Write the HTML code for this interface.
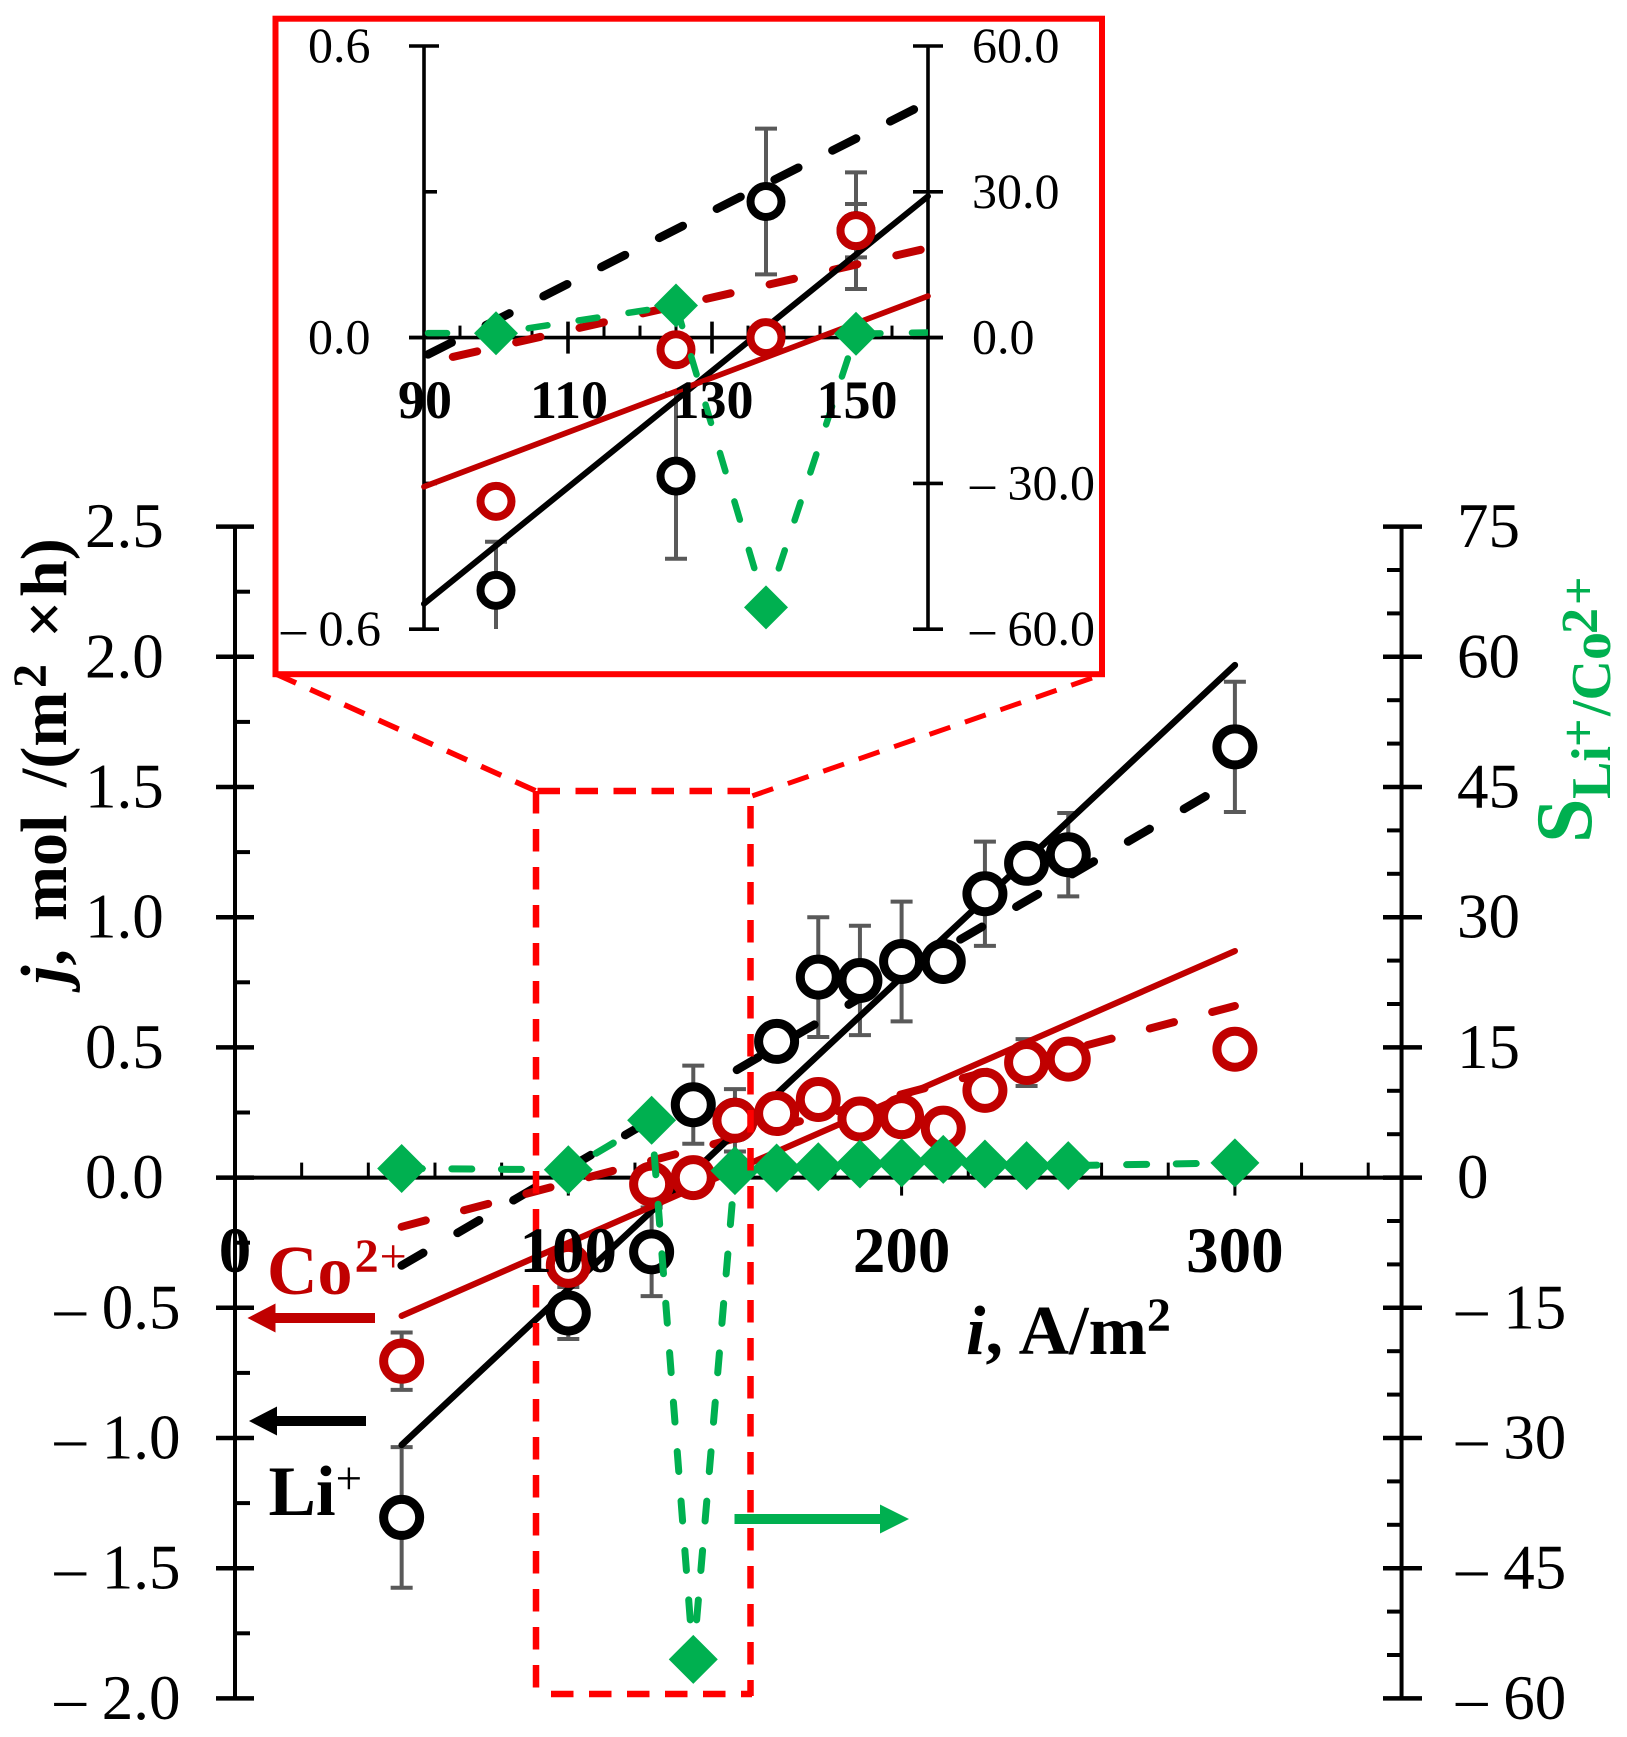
<!DOCTYPE html>
<html lang="en">
<head>
<meta charset="utf-8">
<title>Ion flux and selectivity vs current density</title>
<style>
html,body{margin:0;padding:0;background:#fff}
svg{display:block;font-family:"Liberation Serif",serif}
</style>
</head>
<body>
<svg id="chart" xmlns="http://www.w3.org/2000/svg" width="1627" height="1737" viewBox="0 0 1627 1737">
<rect width="1627" height="1737" fill="#fff"/>
<defs>
<clipPath id="inset-x-clip"><rect x="424" y="20" width="504" height="650"/></clipPath>
<clipPath id="inset-y-clip"><rect x="410" y="45.8" width="530" height="583.2"/></clipPath>
</defs>
<g id="main-layer"></g>
<g id="inset-layer"></g>

<g stroke="#f00" stroke-width="6.5" fill="none" stroke-dasharray="22.5 15.5">
<line x1="750" y1="791" x2="536" y2="791"/>
<line x1="536" y1="791" x2="536" y2="1694"/>
<line x1="551" y1="1694" x2="752" y2="1694"/>
<line x1="750.5" y1="806" x2="750.5" y2="1696"/>
</g>
<line x1="276" y1="674" x2="536" y2="791" stroke="#f00" stroke-width="5.5" stroke-dasharray="22 15.5"/>
<line x1="1092" y1="678" x2="752" y2="796" stroke="#f00" stroke-width="5" stroke-dasharray="22 15.5"/>
<rect x="275.5" y="18.7" width="826.5" height="655.5" fill="none" stroke="#f00" stroke-width="6"/>

<g id="label-layer"></g>

<text x="966" y="1354" font-size="70" font-weight="bold"><tspan font-style="italic">i</tspan>,<tspan dx="2"> A/m</tspan><tspan font-size="48" dy="-23">2</tspan></text>

<text transform="translate(66,990) rotate(-90)" font-size="66" font-weight="bold"><tspan font-style="italic" x="6" y="0">j</tspan><tspan>,</tspan><tspan x="69" y="0">mol</tspan><tspan x="203" y="0">/(m</tspan><tspan font-size="48" x="302" y="-20">2</tspan><tspan x="352" y="0">×</tspan><tspan x="393" y="0">h)</tspan></text>

<text transform="translate(1591,842) rotate(-90)" font-weight="bold" fill="#00B050"><tspan font-size="80" x="-1" y="0">S</tspan><tspan font-size="56" x="43" y="19">Li</tspan><tspan font-size="50" x="95" y="4">+</tspan><tspan font-size="56" x="126" y="19">/Co</tspan><tspan font-size="52" x="208" y="6">2</tspan><tspan font-size="50" x="237" y="4">+</tspan></text>

<text x="267" y="1294" font-size="70" font-weight="bold" fill="#C00000">Co<tspan font-size="48" dy="-22" dx="2">2</tspan><tspan font-size="48" font-weight="normal" dx="1">+</tspan></text>
<text x="268.5" y="1515" font-size="71" font-weight="bold" fill="#000">Li<tspan font-size="47" font-weight="normal" dy="-21">+</tspan></text>

<path fill="#C00000" d="M247.5 1318 L275.5 1303.5 V1313 H375 V1323 H275.5 V1332.5 Z"/>
<path fill="#000" d="M249 1421 L277 1406.5 V1416 H366 V1426 H277 V1435.5 Z"/>
<path fill="#00B050" d="M909 1519 L880 1504.5 V1514 H734.5 V1524 H880 V1533.5 Z"/>
</svg>
<script>
const currents = [50, 100, 125, 137.5, 150, 162.5, 175, 187.5, 200, 212.5, 225, 237.5, 250, 300];
const liFlux = [-1.305, -0.52, -0.285, 0.28, 0.22, 0.523, 0.77, 0.757, 0.83, 0.83, 1.09, 1.207, 1.24, 1.654];
const coFlux = [-0.705, -0.337, -0.025, 0, 0.22, 0.246, 0.30, 0.225, 0.234, 0.19, 0.335, 0.442, 0.455, 0.493];
const selectivity = [1.05, 0.9, 6.6, -55.5, 0.8, 1.1, 1.25, 1.56, 1.7, 2.1, 1.56, 1.38, 1.38, 1.7];
const liError = [0.27, 0.1, 0.17, 0.15, 0.12, 0, 0.23, 0.21, 0.23, 0, 0.2, 0, 0.16, 0.25];
const coError = [0.11, 0, 0, 0, 0.055, 0, 0, 0, 0, 0, 0, 0.09, 0, 0];

const liFitEnds = [-1.027, 1.968];
const coFitEnds = [-0.531, 0.87];
const liTrendEnds = [-0.3376, 1.53];
const coTrendEnds = [-0.189, 0.659];
const fitCurrents = [50, 300];

const mainXLabels = ["0", "100", "200", "300"];
const mainXLabelValues = [0, 100, 200, 300];
const mainLeftValues = [2.5, 2, 1.5, 1, 0.5, 0, -0.5, -1, -1.5, -2];
const mainLeftLabels = ["2.5", "2.0", "1.5", "1.0", "0.5", "0.0", "– 0.5", "– 1.0", "– 1.5", "– 2.0"];
const mainRightValues = [75, 60, 45, 30, 15, 0, -15, -30, -45, -60];
const mainRightLabels = ["75", "60", "45", "30", "15", "0", "– 15", "– 30", "– 45", "– 60"];

const insetXLabels = ["90", "110", "130", "150"];
const insetXLabelValues = [90, 110, 130, 150];
const insetLeftValues = [0.6, 0, -0.6];
const insetLeftLabels = ["0.6", "0.0", "– 0.6"];
const insetRightValues = [60, 30, 0, -30, -60];
const insetRightLabels = ["60.0", "30.0", "0.0", "– 30.0", "– 60.0"];

const SVGNS = 'http://www.w3.org/2000/svg';
function mk(tag, attrs, parent) {
  const el = document.createElementNS(SVGNS, tag);
  for (const k in attrs) el.setAttribute(k, attrs[k]);
  parent.appendChild(el);
  return el;
}
function interp(ends, i) {
  return ends[0] + (ends[1] - ends[0]) * (i - fitCurrents[0]) / (fitCurrents[1] - fitCurrents[0]);
}

const mainX = v => 235 + 3.333 * v;
const mainY = v => 1177.6 - 260.4 * v;
const mainYR = v => 1177.6 - 8.68 * v;
const insetX = v => 424 + 7.2 * (v - 90);
const insetY = v => 337.6 - 486 * v;
const insetYR = v => 337.6 - 4.86 * v;

function drawMarks(layer, o) {
  const gErr = mk('g', {}, layer);
  
  
  if (o.errClip) gErr.setAttribute('clip-path', o.errClip);
  function errBars(values, errors, name) {
    currents.forEach((c, k) => {
      if (!errors[k] || c < o.min || c > o.max) return;
      const x = o.x(c), hi = o.y(values[k] + errors[k]), lo = o.y(values[k] - errors[k]);
      const bar = mk('path', {d: 'M' + x + ' ' + hi + 'V' + lo + 'M' + (x - 11) + ' ' + hi + 'H' + (x + 11) + 'M' + (x - 11) + ' ' + lo + 'H' + (x + 11), stroke: '#595959', 'stroke-width': 4, fill: 'none'}, gErr);
      
      
    });
  }
  errBars(liFlux, liError, 'li-error-bar');
  errBars(coFlux, coError, 'co-error-bar');

  function fitLine(ends, a, b, color, width, dash, offset, name) {
    const line = mk('line', {x1: o.x(a), y1: o.y(interp(ends, a)), x2: o.x(b), y2: o.y(interp(ends, b)), stroke: color, 'stroke-width': width, 'stroke-linecap': 'round'}, layer);
    if (dash) {
      line.setAttribute('stroke-dasharray', dash);
      line.setAttribute('stroke-dashoffset', offset);
    }
    
    
  }
  fitLine(liTrendEnds, o.fitMin, o.fitMax, '#000', 8.5, o.liDash, o.liDashOffset, 'li-dashed-trend');
  fitLine(coTrendEnds, o.coDashMin, o.fitMax, '#C00000', 8, o.coDash, 0, 'co-dashed-trend');
  fitLine(liFitEnds, o.fitMin, o.fitMax, '#000', o.solidW, null, 0, 'li-solid-fit');
  fitLine(coFitEnds, o.fitMin, o.fitMax, '#C00000', o.solidW - 0.3, null, 0, 'co-solid-fit');

  function rings(values, color, name) {
    currents.forEach((c, k) => {
      if (c < o.min || c > o.max) return;
      const ring = mk('circle', {cx: o.x(c), cy: o.y(values[k]), r: o.r, fill: '#fff', stroke: color, 'stroke-width': o.rw}, layer);
      
      
    });
  }
  rings(liFlux, '#000', 'li-marker');
  rings(coFlux, '#C00000', 'co-marker');

  const pts = currents.map((c, k) => [o.x(c), o.yR(selectivity[k])]);
  const deepest = selectivity.indexOf(Math.min.apply(null, selectivity));
  let toDeepest = 0;
  for (let k = 0; k < deepest; k++) toDeepest += Math.hypot(pts[k + 1][0] - pts[k][0], pts[k + 1][1] - pts[k][1]);
  const curve = mk('polyline', {points: pts.map(p => p.join(',')).join(' '), fill: 'none', stroke: '#00B050', 'stroke-width': o.curveW, 'stroke-linecap': 'round', 'stroke-linejoin': 'round', 'stroke-dasharray': o.curveDash[0] + ' ' + o.curveDash[1], 'stroke-dashoffset': -(toDeepest - o.curveDash[0] / 2)}, layer);
  if (o.curveClip) curve.setAttribute('clip-path', o.curveClip);
  
  

  currents.forEach((c, k) => {
    if (c < o.min || c > o.max) return;
    const x = o.x(c), y = o.yR(selectivity[k]), h = o.d;
    const dia = mk('path', {d: 'M' + x + ' ' + (y - h) + 'L' + (x + h) + ' ' + y + 'L' + x + ' ' + (y + h) + 'L' + (x - h) + ' ' + y + 'Z', fill: '#00B050'}, layer);
    
    
  });
}

function tick(layer, d, w, name) {
  const t = mk('path', {d: d, stroke: '#000', 'stroke-width': w, fill: 'none'}, layer);
  
  
}

const mainLayer = document.getElementById('main-layer');
const insetLayer = document.getElementById('inset-layer');
const labelLayer = document.getElementById('label-layer');

tick(mainLayer, 'M235 ' + mainY(2.5) + 'V' + mainY(-2), 4, 'left-y-axis');
tick(mainLayer, 'M' + mainX(350) + ' ' + mainYR(75) + 'V' + mainYR(-60), 4, 'right-y-axis');
tick(mainLayer, 'M216 ' + mainY(0) + 'H1422', 4, 'x-axis');
for (let v = 20; v <= 340; v += 20) {
  if (v % 100 === 0) tick(mainLayer, 'M' + mainX(v) + ' ' + (mainY(0) - 18) + 'V' + (mainY(0) + 18), 3, 'x-major-tick');
  else tick(mainLayer, 'M' + mainX(v) + ' ' + (mainY(0) - 15) + 'V' + mainY(0), 3, 'x-minor-tick');
}
mainLeftValues.forEach(v => tick(mainLayer, 'M216 ' + mainY(v) + 'H254', 4.5, 'left-major-tick'));
mainLeftValues.slice(0, -1).forEach(v => tick(mainLayer, 'M235 ' + mainY(v - 0.25) + 'H250', 4, 'left-minor-tick'));
mainRightValues.forEach(v => tick(mainLayer, 'M1383 ' + mainYR(v) + 'H1422', 4.5, 'right-major-tick'));
mainRightValues.slice(0, -1).forEach(v => {
  tick(mainLayer, 'M1387 ' + mainYR(v - 5) + 'H1402', 4, 'right-minor-tick');
  tick(mainLayer, 'M1387 ' + mainYR(v - 10) + 'H1402', 4, 'right-minor-tick');
});

drawMarks(mainLayer, {x: mainX, y: mainY, yR: mainYR, min: 0, max: 350, fitMin: 50, fitMax: 300, coDashMin: 50, r: 18, rw: 9, d: 24.5, solidW: 6.5, curveW: 7, curveDash: [20, 29.6], liDash: '25 39.7', liDashOffset: 0, coDash: '25 39.5'});

tick(insetLayer, 'M424 ' + insetY(0.6) + 'V' + insetY(-0.6), 3.6, 'inset-left-axis');
tick(insetLayer, 'M928 ' + insetY(0.6) + 'V' + insetY(-0.6), 3.6, 'inset-right-axis');
tick(insetLayer, 'M409 ' + insetY(0) + 'H943', 3.6, 'inset-x-axis');
for (let v = 95; v <= 155; v += 5) {
  if ((v - 90) % 20 === 0) tick(insetLayer, 'M' + insetX(v) + ' ' + (insetY(0) - 16) + 'V' + (insetY(0) + 16), 3.6, 'inset-x-major-tick');
  else tick(insetLayer, 'M' + insetX(v) + ' ' + (insetY(0) - 12) + 'V' + insetY(0), 3, 'inset-x-minor-tick');
}
insetLeftValues.forEach(v => tick(insetLayer, 'M409 ' + insetY(v) + 'H439', 3.6, 'inset-left-major-tick'));
tick(insetLayer, 'M424 ' + insetY(0.3) + 'H437', 3.6, 'inset-left-minor-tick');
tick(insetLayer, 'M424 ' + insetY(-0.3) + 'H437', 3.6, 'inset-left-minor-tick');
insetRightValues.forEach(v => tick(insetLayer, 'M913 ' + insetYR(v) + 'H943', 3.6, 'inset-right-major-tick'));

drawMarks(insetLayer, {x: insetX, y: insetY, yR: insetYR, min: 90, max: 160, fitMin: 90, fitMax: 160, coDashMin: 94, r: 15.5, rw: 8, d: 22, solidW: 6, curveW: 6.5, curveDash: [19, 31.5], liDash: '26.5 38.2', liDashOffset: -4.5, coDash: '25 40', errClip: 'url(#inset-y-clip)', curveClip: 'url(#inset-x-clip)'});

function label(text, x, y, size, anchor, weight, name) {
  const t = mk('text', {x: x, y: y, 'font-size': size, 'text-anchor': anchor, 'font-weight': weight, fill: '#000'}, labelLayer);
  t.setAttribute('xml:space', 'preserve');
  t.textContent = text;
  
  
}
mainLeftValues.forEach((v, k) => label(mainLeftLabels[k], v < 0 ? 54.5 : 85, mainY(v) + 20.5, 63, 'start', 'normal', 'left-tick-label'));
mainRightValues.forEach((v, k) => label(mainRightLabels[k], v < 0 ? 1456 : 1457, mainYR(v) + 20.5, 63, 'start', 'normal', 'right-tick-label'));
mainXLabelValues.forEach((v, k) => label(mainXLabels[k], mainX(v), 1272, 65, 'middle', 'bold', 'x-tick-label'));
insetLeftValues.forEach((v, k) => label(insetLeftLabels[k], v < 0 ? 281 : 308, insetY(v) + 16, 50, 'start', 'normal', 'inset-left-tick-label'));
insetRightValues.forEach((v, k) => label(insetRightLabels[k], v < 0 ? 970 : 972, insetYR(v) + 16, 50, 'start', 'normal', 'inset-right-tick-label'));
insetXLabelValues.forEach((v, k) => label(insetXLabels[k], insetX(v) + 1, 418, 54, 'middle', 'bold', 'inset-x-tick-label'));
</script>
</body>
</html>
